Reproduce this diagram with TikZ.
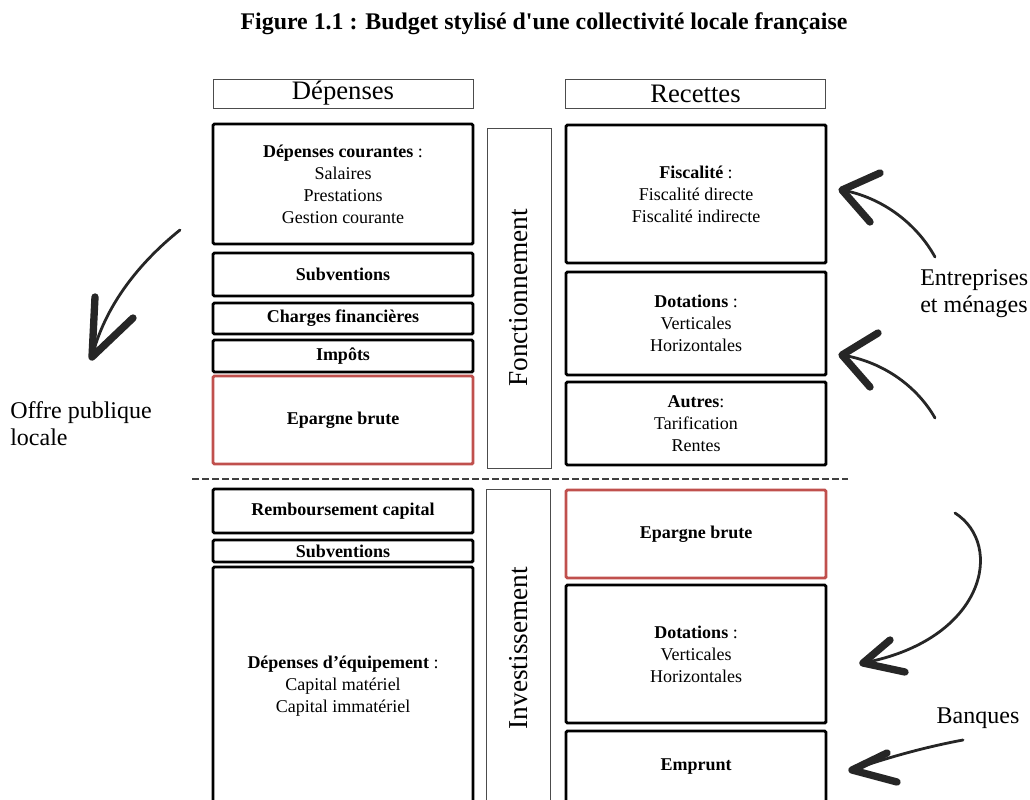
\documentclass[tikz,border=0pt]{standalone}
\usepackage{fontspec}
\setmainfont{Liberation Serif}
\usepackage{xcolor}
\usepackage{tikz}
\definecolor{rougeepargne}{RGB}{192,80,77}
\newcommand*{\intitule}[1]{\textbf{#1}}

\begin{document}
\begin{tikzpicture}[x=0.75pt, y=-0.75pt,
    poste/.style={draw, line width=2.2pt, rounded corners=1pt, minimum width=195pt,
      align=center, inner sep=0pt, font=\fontsize{13.5}{16.5}\selectfont},
    epargne/.style={poste, draw=rougeepargne},
    entete/.style={draw=black!70, line width=0.75pt, minimum width=195pt,
      minimum height=21.75pt, inner sep=0pt, font=\fontsize{20}{24}\selectfont},
    section/.style={draw=black!70, line width=0.75pt, rotate=90, minimum height=48pt,
      inner sep=0pt, font=\fontsize{20.5}{24}\selectfont},
    acteur/.style={align=left, inner sep=0pt, font=\fontsize{18}{20.25}\selectfont},
    trait/.style={line width=2.1pt, line cap=round, black!85},
    pointe/.style={line width=5.5pt, line cap=round, line join=round, black!85}]

  \useasboundingbox (0,0) rectangle (1030,799);

  \node[font=\bfseries\fontsize{17.9}{21}\selectfont] (titre) at (544,24)
    {Figure 1.1 : Budget stylisé d\textquotesingle une collectivité locale française};

  % en-tetes
  \node[entete] (dep) at (343,93.5) {Dépenses};
  \node[entete] (rec) at (695.5,94) {Recettes};

  % section de fonctionnement
  \node[poste, minimum height=90pt] (courantes) at (343,184)
    {\intitule{Dépenses courantes} :\\ Salaires\\ Prestations\\ Gestion courante};
  \node[poste, minimum height=32.25pt] (subvF) at (343,274.5) {\intitule{Subventions}};
  \node[poste, minimum height=23.25pt] (charges) at (343,318.5) {\intitule{Charges financières}};
  \node[poste, minimum height=24pt] (impots) at (343,356) {\intitule{Impôts}};
  \node[epargne, minimum height=66pt] (epargneF) at (343,420) {\intitule{Epargne brute}};

  \node[section, minimum width=255pt] (fonct) at (519,298) {Fonctionnement};

  \node[poste, minimum height=103.5pt] (fisc) at (696,194)
    {\intitule{Fiscalité} :\\ Fiscalité directe\\ Fiscalité indirecte};
  \node[poste, minimum height=77.25pt] (dotF) at (696,323.5)
    {\intitule{Dotations} :\\ Verticales\\ Horizontales};
  \node[poste, minimum height=62.25pt] (autres) at (696,423.5)
    {\intitule{Autres}:\\ Tarification\\ Rentes};

  % separation
  \coordinate (sepG) at (192,479);
  \coordinate (sepD) at (848,479);
  \draw[black!75, line width=1pt, dash pattern=on 5pt off 2.5pt] (sepG) -- (sepD);

  % section d'investissement
  \node[poste, minimum height=33pt] (rembours) at (343,511) {\intitule{Remboursement capital}};
  \node[poste, minimum height=16.5pt] (subvI) at (343,551) {\intitule{Subventions}};
  \node[poste, minimum height=178.5pt] (equip) at (343,686)
    {\intitule{Dépenses d’équipement} :\\ Capital matériel\\ Capital immatériel};

  \node[section, minimum width=238.5pt] (invest) at (518.5,648) {Investissement};

  \node[epargne, minimum height=66pt] (epargneI) at (696,534) {\intitule{Epargne brute}};
  \node[poste, minimum height=103.5pt] (dotI) at (696,654)
    {\intitule{Dotations} :\\ Verticales\\ Horizontales};
  \node[poste, minimum height=54pt] (emprunt) at (696,767) {\intitule{Emprunt}};

  % acteurs
  \node[acteur, anchor=west] (offre) at (10,423.5) {Offre publique\\ locale};
  \node[acteur, anchor=west] (menages) at (920,294) {Entreprises\\ et ménages};
  \node[acteur] (banques) at (978,718) {Banques};

  % fleches
  \coordinate (a1) at (180,230); \coordinate (b1) at (92,357);
  \draw[trait] (a1) .. controls (140,262) and (105,305) .. (b1);
  \draw[pointe] (95,297) -- (b1) -- (133,318);

  \coordinate (a2) at (935,257); \coordinate (b2) at (842,190);
  \draw[trait] (a2) .. controls (918,226) and (885,198) .. (b2);
  \draw[pointe] (880,173) -- (b2) -- (870,222);

  \coordinate (a3) at (935,418); \coordinate (b3) at (842,355);
  \draw[trait] (a3) .. controls (918,388) and (885,362) .. (b3);
  \draw[pointe] (878,333) -- (b3) -- (870,387);

  \coordinate (a4) at (955,513); \coordinate (b4) at (863,663);
  \draw[trait] (a4) .. controls (1005,545) and (985,640) .. (b4);
  \draw[pointe] (890,640) -- (b4) -- (905,672);

  \coordinate (a5) at (963,740); \coordinate (b5) at (852,770);
  \draw[trait] (a5) .. controls (920,748) and (880,760) .. (b5);
  \draw[pointe] (887,753) -- (b5) -- (897,782);
\end{tikzpicture}
\end{document}
